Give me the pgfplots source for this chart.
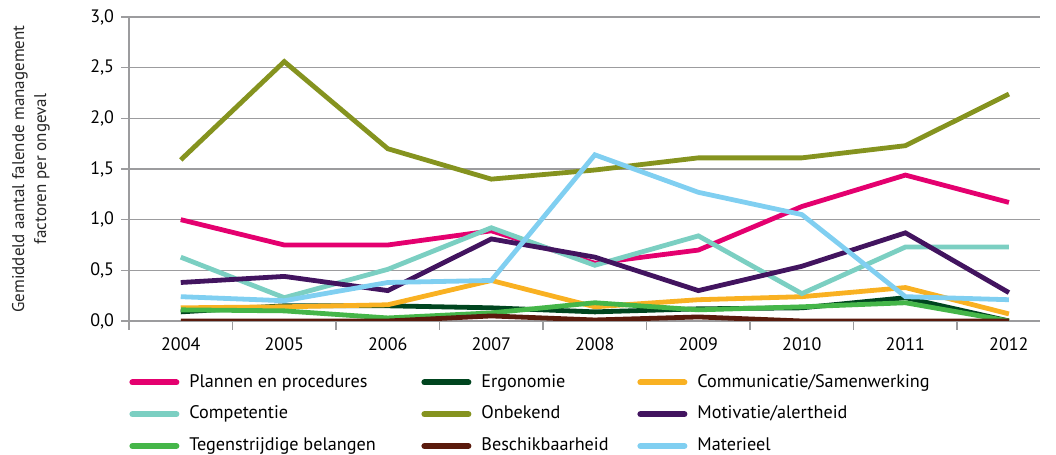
\documentclass[border=0pt]{standalone}
\usepackage{pgfplots}
\pgfplotsset{compat=1.18}
\usepackage{fontspec}
\setmainfont{PT Sans}
\definecolor{cPlan}{HTML}{E4006F}
\definecolor{cErgo}{HTML}{00451F}
\definecolor{cComm}{HTML}{F9B122}
\definecolor{cComp}{HTML}{7BCFC2}
\definecolor{cOnb}{HTML}{85931F}
\definecolor{cMot}{HTML}{42145F}
\definecolor{cTeg}{HTML}{45B649}
\definecolor{cBes}{HTML}{5A1A0C}
\definecolor{cMat}{HTML}{80CFF1}
\definecolor{cGrid}{HTML}{9C9C9E}
\begin{document}
\begin{tikzpicture}
\path[use as bounding box] (0,0) rectangle (528pt,227.5pt);
\begin{axis}[
  at={(64.5pt,67pt)}, anchor=south west,
  width=455.5pt, height=152pt, scale only axis,
  xmin=2003.5, xmax=2012.3, ymin=0, ymax=3,
  axis lines*=left,
  axis line style={cGrid, line width=0.8pt},
  xtick={2004,...,2012},
  xticklabels={2004,2005,2006,2007,2008,2009,2010,2011,2012},
  minor xtick={2003.5,2004.5,...,2011.5},
  major x tick style={draw=none},
  minor x tick style={cGrid, line width=0.8pt},
  minor tick length=4.5pt,
  major tick length=4pt,
  tick align=outside,
  ytick={0,0.5,...,3},
  ytick style={cGrid, line width=0.8pt},
  ymajorgrids, grid style={cGrid, line width=0.8pt},
  yticklabel style={/pgf/number format/.cd, fixed, fixed zerofill, precision=1, use comma},
  /pgf/number format/assume math mode=true,
  tick label style={font=\fontsize{9pt}{10pt}\selectfont, text=black},
  xticklabel style={yshift=-1pt},
  ylabel={Gemiddeld aantal falende management\\factoren per ongeval},
  ylabel style={at={(rel axis cs:0,0.5)}, anchor=center, yshift=49pt,
    font=\fontsize{8.5pt}{11pt}\selectfont, align=center, text=black!85},
  legend columns=3,
  legend style={at={(rel axis cs:0.0,-0.172)}, anchor=north west, draw=none, inner sep=0pt,
    font=\fontsize{9.1pt}{10pt}\selectfont,
    nodes={inner sep=0pt, text height=6.7pt, text depth=2pt},
    row sep=7.2pt,
    /tikz/every odd column/.append style={column sep=5pt}},
  legend cell align=left,
  legend image code/.code={\draw[#1, line width=3pt, line cap=round] (1.5pt,0pt) -- (23.5pt,0pt);},
  every axis plot/.append style={line width=2.4pt, mark=none},
]
\addplot[cPlan] coordinates {(2004,1.00) (2005,0.75) (2006,0.75) (2007,0.89) (2008,0.57) (2009,0.70) (2010,1.13) (2011,1.44) (2012,1.17)};
\addlegendentry{\makebox[116pt][l]{Plannen en procedures}}
\addplot[cErgo] coordinates {(2004,0.09) (2005,0.15) (2006,0.15) (2007,0.13) (2008,0.09) (2009,0.12) (2010,0.13) (2011,0.23) (2012,0.00)};
\addlegendentry{\makebox[78pt][l]{Ergonomie}}
\addplot[cComm] coordinates {(2004,0.13) (2005,0.14) (2006,0.16) (2007,0.40) (2008,0.14) (2009,0.21) (2010,0.24) (2011,0.33) (2012,0.07)};
\addlegendentry{Communicatie/Samenwerking}
\addplot[cComp] coordinates {(2004,0.63) (2005,0.23) (2006,0.51) (2007,0.92) (2008,0.55) (2009,0.84) (2010,0.27) (2011,0.73) (2012,0.73)};
\addlegendentry{\makebox[116pt][l]{Competentie}}
\addplot[cOnb] coordinates {(2004,1.59) (2005,2.56) (2006,1.70) (2007,1.40) (2008,1.49) (2009,1.61) (2010,1.61) (2011,1.73) (2012,2.24)};
\addlegendentry{\makebox[78pt][l]{Onbekend}}
\addplot[cMot] coordinates {(2004,0.38) (2005,0.44) (2006,0.30) (2007,0.81) (2008,0.63) (2009,0.30) (2010,0.54) (2011,0.87) (2012,0.28)};
\addlegendentry{Motivatie/alertheid}
\addplot[cTeg] coordinates {(2004,0.11) (2005,0.10) (2006,0.03) (2007,0.08) (2008,0.18) (2009,0.11) (2010,0.14) (2011,0.18) (2012,0.00)};
\addlegendentry{\makebox[116pt][l]{Tegenstrijdige belangen}}
\addplot[cBes] coordinates {(2004,0.00) (2005,0.00) (2006,0.00) (2007,0.05) (2008,0.01) (2009,0.04) (2010,0.00) (2011,0.00) (2012,0.00)};
\addlegendentry{\makebox[78pt][l]{Beschikbaarheid}}
\addplot[cMat] coordinates {(2004,0.24) (2005,0.20) (2006,0.38) (2007,0.40) (2008,1.64) (2009,1.27) (2010,1.05) (2011,0.24) (2012,0.21)};
\addlegendentry{Materieel}
\end{axis}
\end{tikzpicture}
\end{document}
